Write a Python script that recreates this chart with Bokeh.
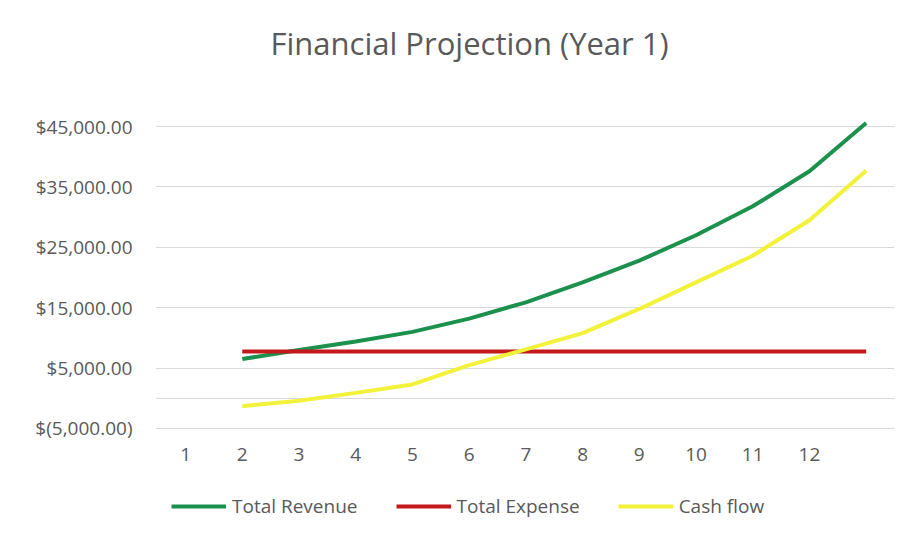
from bokeh.plotting import figure
from bokeh.layouts import column
from bokeh.models import FixedTicker, Legend, LegendItem, Title, ColumnDataSource
from bokeh.embed import file_html
from bokeh.resources import INLINE

# ---- data ----
months = [1, 2, 3, 4, 5, 6, 7, 8, 9, 10, 11, 12]
x_tick_labels = ["1", "2", "3", "4", "5", "6", "7", "8", "9", "10", "11", "12"]
total_revenue = [6500, 8000, 9400, 11000, 13200, 15900, 19200, 22800, 27000, 31800, 37600, 45600]
total_expense = [7750, 7750, 7750, 7750, 7750, 7750, 7750, 7750, 7750, 7750, 7750, 7750]
cash_flow = [-1300, -400, 900, 2300, 5500, 8100, 10800, 14800, 19200, 23600, 29500, 37700]
y_label_values = [-5000, 5000, 15000, 25000, 35000, 45000]
y_tick_labels = ["$(5,000.00)", "$5,000.00", "$15,000.00", "$25,000.00", "$35,000.00", "$45,000.00"]
y_grid_values = [-5000, 0, 5000, 15000, 25000, 35000, 45000]
series_names = ["Total Revenue", "Total Expense", "Cash flow"]
series_colors = ["#1c914d", "#c3181c", "#f2f23a"]

FONT = "Open Sans"
TXT = "#595959"

# in the original chart the series are drawn one category to the right of their labels
xs = [m + 1 for m in months]
src = ColumnDataSource(dict(x=xs, rev=total_revenue, exp=total_expense, cf=cash_flow))

p = figure(width=904, height=470, output_backend="svg", toolbar_location=None,
           x_range=(0.47, 13.5), y_range=(-5500, 48000),
           min_border_left=155, min_border_right=10, min_border_top=104, min_border_bottom=39)
p.outline_line_color = None
p.background_fill_color = "white"
p.border_fill_color = "white"

# spacer between the frame and the title, then the title itself
p.add_layout(Title(text=" ", text_font_size="1px", standoff=23), "above")
p.add_layout(Title(text="Financial Projection (Year 1)", align="left", offset=115,
                   text_font=FONT, text_font_size="31px", text_font_style="normal",
                   text_color=TXT, standoff=38), "above")

for col, name, color in zip(["rev", "exp", "cf"], series_names, series_colors):
    p.line("x", col, source=src, line_color=color, line_width=4)

# axes
p.xaxis.ticker = FixedTicker(ticks=months)
p.xaxis.major_label_overrides = {m: l for m, l in zip(months, x_tick_labels)}
p.yaxis.ticker = FixedTicker(ticks=y_label_values)
p.yaxis.major_label_overrides = {v: l for v, l in zip(y_label_values, y_tick_labels)}
for ax in (p.xaxis, p.yaxis):
    ax.axis_line_color = None
    ax.major_tick_line_color = None
    ax.minor_tick_line_color = None
    ax.major_label_text_font = FONT
    ax.major_label_text_font_size = "19px"
    ax.major_label_text_color = TXT
p.xaxis.major_label_standoff = 10
p.yaxis.major_label_standoff = 17

p.xgrid.grid_line_color = None
p.ygrid.ticker = FixedTicker(ticks=y_grid_values)
p.ygrid.grid_line_color = "#d9d9d9"
p.ygrid.grid_line_width = 1

# ---- legend strip below the chart (its swatch lines lie outside its visible range) ----
lg = figure(width=904, height=66, output_backend="svg", toolbar_location=None,
            x_axis_type=None, y_axis_type=None, x_range=(0, 1), y_range=(0, 1),
            min_border=0)
lg.outline_line_color = None
lg.background_fill_color = "white"
lg.border_fill_color = "white"
items = []
for col, name, color in zip(["rev", "exp", "cf"], series_names, series_colors):
    r = lg.line("x", col, source=src, line_color=color, line_width=4)
    items.append(LegendItem(label=name, renderers=[r]))
legend = Legend(items=items, orientation="horizontal", location=(16, 17),
                glyph_width=55, glyph_height=24, label_standoff=6, spacing=38,
                padding=0, margin=0, border_line_alpha=0, background_fill_alpha=0,
                label_text_font=FONT, label_text_font_size="19px", label_text_color=TXT)
lg.add_layout(legend, "center")

open("out.html", "w").write(file_html(column(p, lg, spacing=0), INLINE))
